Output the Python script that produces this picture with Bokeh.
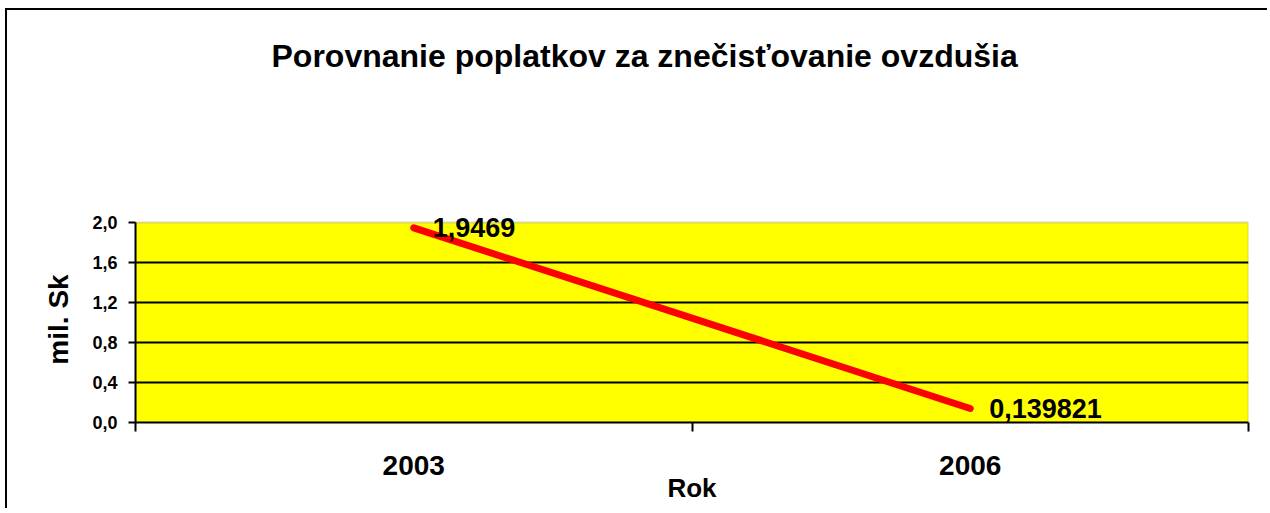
from bokeh.plotting import figure
from bokeh.models import (FixedTicker, CustomJSTickFormatter, ColumnDataSource, Range1d,
                          Title, BoxAnnotation)
from bokeh.core.properties import value
from bokeh.embed import file_html
from bokeh.resources import INLINE

title_text = "Porovnanie poplatkov za znečisťovanie ovzdušia"
years = ["2003", "2006"]
values = [1.9469, 0.139821]
value_labels = ["1,9469", "0,139821"]
y_ticks = [0.0, 0.4, 0.8, 1.2, 1.6, 2.0]

xs = [i + 0.5 for i in range(len(years))]
src = ColumnDataSource(dict(x=xs, y=values, lab=value_labels))

FONT = "Liberation Sans"
y_min, y_max = y_ticks[0], y_ticks[-1]

p = figure(width=1262, height=500, output_backend="svg", toolbar_location=None,
           x_range=Range1d(0, len(years)), y_range=Range1d(y_min, y_max + 0.06),
           min_border_left=128, min_border_right=21, min_border_top=206, min_border_bottom=88)
p.styles = {"border-left": "2px solid black", "border-top": "2px solid black",
            "margin-left": "5px", "margin-top": "8px"}

# spacer between plot area and title
p.add_layout(Title(text=" ", text_font_size="2px", standoff=139), "above")

p.title.text = title_text
p.title.align = "left"
p.title.offset = 136
p.title.standoff = 0
p.title.text_font = FONT
p.title.text_font_size = "32px"
p.title.text_font_style = "bold"
p.title.text_color = "black"

p.background_fill_color = "white"
p.border_fill_color = "white"
p.outline_line_color = None

# yellow plot area with grey border (top/right visible)
p.add_layout(BoxAnnotation(bottom=y_min, top=y_max, fill_color="#FFFF00", fill_alpha=1.0,
                           line_color="#808080", line_width=2, level="image"))

p.xgrid.visible = False
p.ygrid.ticker = FixedTicker(ticks=y_ticks[1:-1])
p.ygrid.grid_line_color = "black"
p.ygrid.grid_line_width = 2

p.line("x", "y", source=src, line_color="#FF0000", line_width=7, line_cap="round")
p.text("x", "y", text="lab", source=src, x_offset=19, y_offset=0,
       text_font=value(FONT), text_font_size=value("27px"), text_font_style="bold",
       text_baseline="middle", text_align="left", text_color="black")

xa = p.xaxis[0]
xa.ticker = FixedTicker(ticks=xs, minor_ticks=[float(i) for i in range(len(years) + 1)])
xa.major_label_overrides = {x: y for x, y in zip(xs, years)}
xa.major_tick_line_alpha = 0
xa.minor_tick_out = 9
xa.minor_tick_in = 0
xa.minor_tick_line_color = "black"
xa.minor_tick_line_width = 2
xa.axis_line_color = "black"
xa.axis_line_width = 2
xa.major_label_text_font = FONT
xa.major_label_text_font_size = "28px"
xa.major_label_text_font_style = "bold"
xa.major_label_text_color = "black"
xa.major_label_standoff = 24
xa.axis_label = "Rok"
xa.axis_label_text_font = FONT
xa.axis_label_text_font_size = "26px"
xa.axis_label_text_font_style = "bold"
xa.axis_label_text_color = "black"
xa.axis_label_standoff = -5

ya = p.yaxis[0]
ya.bounds = (y_min, y_max)
ya.ticker = FixedTicker(ticks=y_ticks)
ya.formatter = CustomJSTickFormatter(code="return tick.toFixed(1).replace('.', ',');")
ya.minor_tick_line_alpha = 0
ya.major_tick_out = 7
ya.major_tick_in = 0
ya.major_tick_line_width = 2
ya.axis_line_color = "black"
ya.axis_line_width = 2
ya.major_label_text_font = FONT
ya.major_label_text_font_size = "18px"
ya.major_label_text_font_style = "bold"
ya.major_label_text_color = "black"
ya.major_label_standoff = 11
ya.axis_label = "mil. Sk"
ya.axis_label_text_font = FONT
ya.axis_label_text_font_size = "28px"
ya.axis_label_text_font_style = "bold"
ya.axis_label_text_color = "black"
ya.axis_label_standoff = 15

open("out.html", "w").write(file_html(p, INLINE))
